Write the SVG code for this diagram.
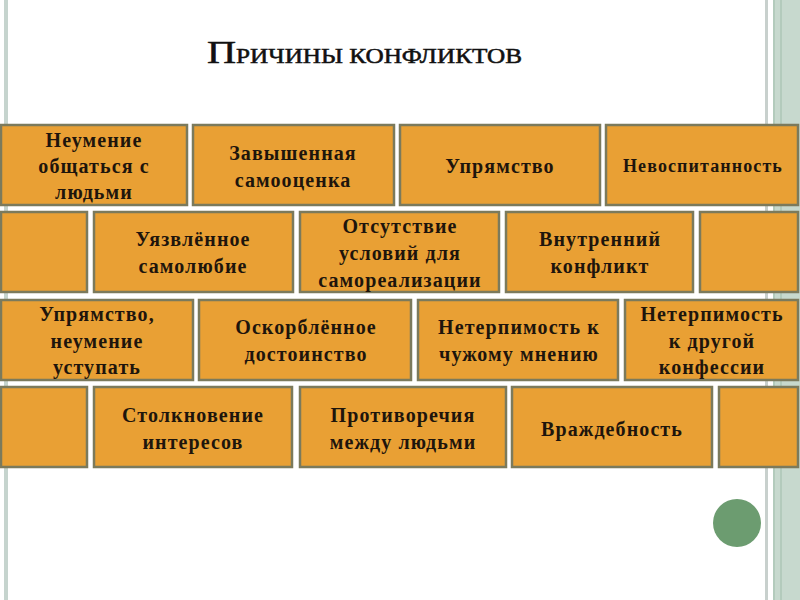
<svg xmlns="http://www.w3.org/2000/svg" width="800" height="600" viewBox="0 0 800 600">
<style>
.b{fill:#E9A034;stroke:#7b7a5c;stroke-width:2.5}
.t{font-family:"Liberation Serif","Times New Roman",serif;font-weight:bold;font-size:20px;fill:#1e150c;text-anchor:middle;letter-spacing:1.1px}
.ttl{font-family:"Liberation Serif","Times New Roman",serif;fill:#111;stroke:#111;stroke-width:0.5}
</style>
<rect width="800" height="600" fill="#fff"/>
<g id="frame">
<rect x="4" y="0" width="4" height="600" fill="#c6d4ce"/>
<rect x="765" y="0" width="3" height="600" fill="#c8d0cd"/>
<rect x="773" y="0" width="27" height="600" fill="#c7d9ce"/>
<rect x="773" y="0" width="2" height="600" fill="#b3cbbc"/>
<rect x="780" y="0" width="2" height="600" fill="#b3cbbc"/>
</g>
<g id="title">
<text class="ttl" x="207" y="63" textLength="315" lengthAdjust="spacingAndGlyphs"><tspan font-size="32">П</tspan><tspan font-size="20">РИЧИНЫ КОНФЛИКТОВ</tspan></text>
</g>
<g id="connectors"></g>
<g id="n1"><rect class="b" x="1" y="125" width="186" height="80"/><text class="t"><tspan x="94" y="147">Неумение</tspan><tspan x="94" y="173">общаться с</tspan><tspan x="94" y="199">людьми</tspan></text></g>
<g id="n2"><rect class="b" x="193" y="125" width="201" height="80"/><text class="t"><tspan x="293" y="160">Завышенная</tspan><tspan x="293" y="187">самооценка</tspan></text></g>
<g id="n3"><rect class="b" x="400" y="125" width="200" height="80"/><text class="t"><tspan x="500" y="173">Упрямство</tspan></text></g>
<g id="n4"><rect class="b" x="606" y="125" width="192" height="80"/><text class="t" style="font-size:18px"><tspan x="703" y="172">Невоспитанность</tspan></text></g>
<g id="n5"><rect class="b" x="1" y="212" width="86" height="80"/></g>
<g id="n6"><rect class="b" x="94" y="212" width="199" height="80"/><text class="t"><tspan x="193" y="246">Уязвлённое</tspan><tspan x="193" y="273">самолюбие</tspan></text></g>
<g id="n7"><rect class="b" x="300" y="212" width="199" height="80"/><text class="t"><tspan x="400" y="233">Отсутствие</tspan><tspan x="400" y="260">условий для</tspan><tspan x="400" y="287">самореализации</tspan></text></g>
<g id="n8"><rect class="b" x="506" y="212" width="187" height="80"/><text class="t"><tspan x="600" y="246">Внутренний</tspan><tspan x="600" y="273">конфликт</tspan></text></g>
<g id="n9"><rect class="b" x="700" y="212" width="98" height="80"/></g>
<g id="n10"><rect class="b" x="1" y="300" width="192" height="80"/><text class="t"><tspan x="97" y="321">Упрямство,</tspan><tspan x="97" y="348">неумение</tspan><tspan x="97" y="374">уступать</tspan></text></g>
<g id="n11"><rect class="b" x="199" y="300" width="212" height="80"/><text class="t"><tspan x="306" y="334">Оскорблённое</tspan><tspan x="306" y="361">достоинство</tspan></text></g>
<g id="n12"><rect class="b" x="418" y="300" width="200" height="80"/><text class="t"><tspan x="519" y="334">Нетерпимость к</tspan><tspan x="519" y="361">чужому мнению</tspan></text></g>
<g id="n13"><rect class="b" x="625" y="300" width="173" height="80"/><text class="t"><tspan x="712" y="321">Нетерпимость</tspan><tspan x="712" y="348">к другой</tspan><tspan x="712" y="374">конфессии</tspan></text></g>
<g id="n14"><rect class="b" x="1" y="387" width="86" height="80"/></g>
<g id="n15"><rect class="b" x="94" y="387" width="198" height="80"/><text class="t"><tspan x="193" y="422">Столкновение</tspan><tspan x="193" y="449">интересов</tspan></text></g>
<g id="n16"><rect class="b" x="300" y="387" width="206" height="80"/><text class="t"><tspan x="403" y="422">Противоречия</tspan><tspan x="403" y="449">между людьми</tspan></text></g>
<g id="n17"><rect class="b" x="512" y="387" width="200" height="80"/><text class="t"><tspan x="612" y="436">Враждебность</tspan></text></g>
<g id="n18"><rect class="b" x="719" y="387" width="79" height="80"/></g>
<g id="dot"><circle cx="737" cy="523" r="24" fill="#6c9c70"/></g>
</svg>
